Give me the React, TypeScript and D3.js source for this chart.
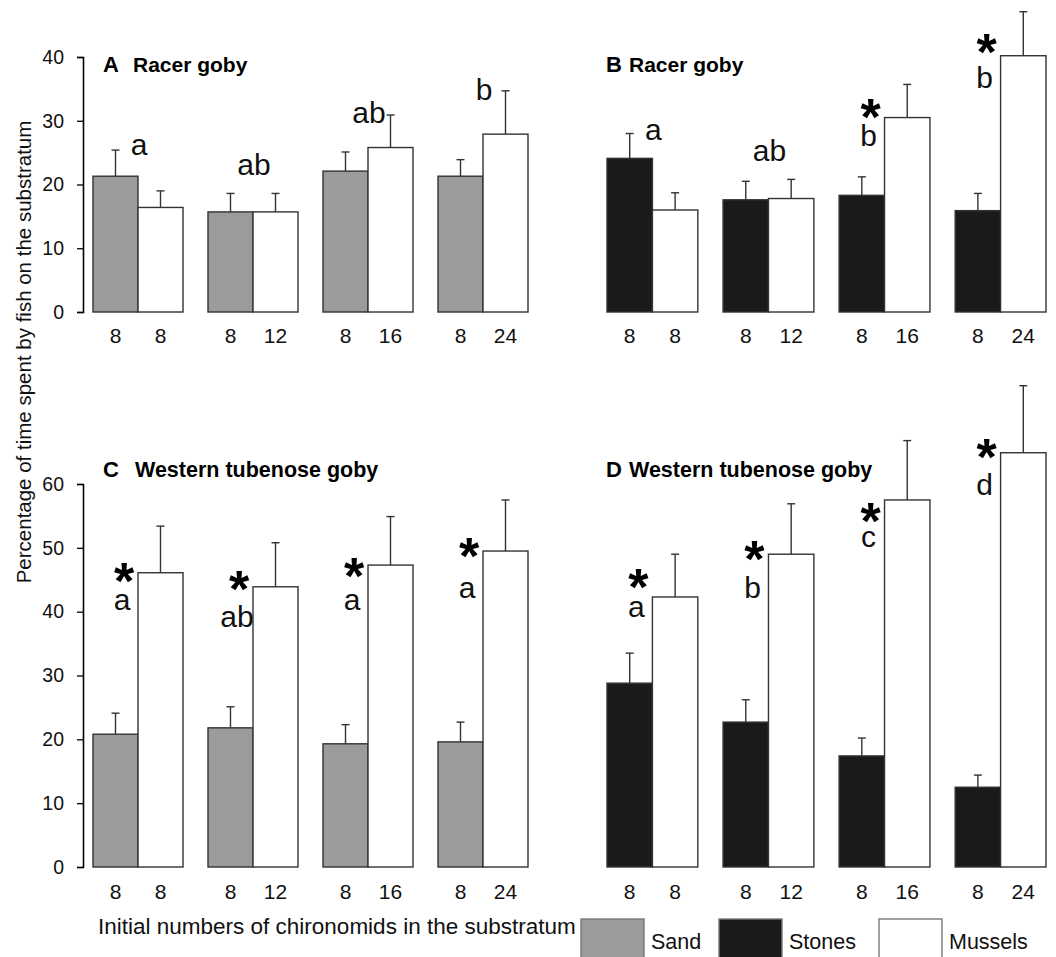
import React, { useEffect, useRef } from 'react'
import * as d3 from 'd3'

const [WIDTH, HEIGHT] = [1056, 957]
const FONT = '"Liberation Sans", Arial, sans-serif'

const groups = ['g1', 'g2', 'g3', 'g4']
const sideKeys = ['sub', 'mus']
const substrateNumbers = ['8', '8', '8', '8']
const musselNumbers = ['8', '12', '16', '24']

// A: racer goby, sand vs mussels
const aSand = [21.3, 15.7, 22.1, 21.3]
const aSandSE = [4.1, 2.9, 3.0, 2.6]
const aMussels = [16.4, 15.7, 25.8, 27.9]
const aMusselsSE = [2.6, 2.9, 5.1, 6.8]
const aLetters = ['a', 'ab', 'ab', 'b']
const aLetterY = [24.6, 21.5, 29.6, 33.3]
const aStars = [false, false, false, false]
const aStarY = [0, 0, 0, 0]

// B: racer goby, stones vs mussels
const bStones = [24.1, 17.6, 18.3, 15.9]
const bStonesSE = [3.9, 2.9, 2.9, 2.7]
const bMussels = [16.0, 17.8, 30.5, 40.2]
const bMusselsSE = [2.7, 3.0, 5.2, 6.9]
const bLetters = ['a', 'ab', 'b', 'b']
const bLetterY = [27.0, 23.7, 26.0, 35.1]
const bStars = [false, false, true, true]
const bStarY = [0, 0, 32.0, 42.2]

// C: western tubenose goby, sand vs mussels
const cSand = [20.8, 21.8, 19.3, 19.6]
const cSandSE = [3.3, 3.3, 3.0, 3.1]
const cMussels = [46.1, 43.9, 47.3, 49.5]
const cMusselsSE = [7.3, 6.9, 7.6, 8.0]
const cLetters = ['a', 'ab', 'a', 'a']
const cLetterY = [40.3, 37.6, 40.3, 42.2]
const cStars = [true, true, true, true]
const cStarY = [46.2, 45.0, 47.0, 50.1]

// D: western tubenose goby, stones vs mussels
const dStones = [28.8, 22.7, 17.4, 12.5]
const dStonesSE = [4.7, 3.5, 2.8, 1.9]
const dMussels = [42.3, 49.0, 57.5, 64.9]
const dMusselsSE = [6.7, 7.9, 9.3, 10.5]
const dLetters = ['a', 'b', 'c', 'd']
const dLetterY = [39.2, 42.1, 50.1, 58.3]
const dStars = [true, true, true, true]
const dStarY = [45.3, 49.7, 55.6, 65.6]

const legendLabels = ['Sand', 'Stones', 'Mussels']
const COLORS = { Sand: '#9b9b9b', Stones: '#1c1a18', Mussels: '#ffffff' }

function Panel({ cfg }) {
  const axisRef = useRef(null)
  const x = d3.scaleBand().domain(groups).range(cfg.xRange).paddingInner(25 / 115).paddingOuter(0)
  const xi = d3.scaleBand().domain(sideKeys).range([0, x.bandwidth()])
  const y = d3.scaleLinear().domain([0, cfg.yMax]).range(cfg.yRange)

  useEffect(() => {
    if (!cfg.axis) return
    const g = d3.select(axisRef.current)
    g.selectAll('*').remove()
    g.call(d3.axisLeft(y).ticks(cfg.yMax / 10).tickSize(6).tickPadding(13))
    g.select('.domain').attr('stroke', '#000').attr('stroke-width', 1.6)
    g.selectAll('.tick line').attr('stroke', '#000').attr('stroke-width', 1.3)
    g.selectAll('.tick text')
      .attr('font-family', FONT).attr('font-size', 19.5).attr('fill', '#111')
  }, [cfg])

  const bars = []
  groups.forEach((gk, i) => {
    const vals = [cfg.sub[i], cfg.mus[i]]
    const ses = [cfg.subSE[i], cfg.musSE[i]]
    const fills = [COLORS[cfg.subName], COLORS.Mussels]
    const labels = [substrateNumbers[i], musselNumbers[i]]
    sideKeys.forEach((k, j) => {
      const bx = x(gk) + xi(k)
      const cx = bx + xi.bandwidth() / 2
      const top = y(vals[j] + ses[j])
      bars.push(
        <g key={gk + k}>
          <line x1={cx} x2={cx} y1={y(vals[j])} y2={top} stroke="#333" strokeWidth={1.4} />
          <line x1={cx - 4} x2={cx + 4} y1={top} y2={top} stroke="#333" strokeWidth={1.4} />
          <rect x={bx} y={y(vals[j])} width={xi.bandwidth()} height={y(0) - y(vals[j])}
            fill={fills[j]} stroke="#333" strokeWidth={1.4} />
          <text x={cx} y={y(0) + cfg.tickDy} textAnchor="middle" fontFamily={FONT}
            fontSize={21} fill="#111">{labels[j]}</text>
        </g>
      )
    })
  })

  const notes = groups.map((gk, i) => {
    const side = cfg.stars[i] || cfg.side
    const lx = side ? x(gk) + xi('mus') - 16 : x(gk) + x.bandwidth() / 2 + 1
    return (
      <g key={'n' + gk}>
        {cfg.stars[i] &&
          <text x={lx + 2} y={y(cfg.starY[i]) + 27} textAnchor="middle" fontFamily={FONT}
            fontWeight="bold" fontSize={52} fill="#000">*</text>}
        <text x={lx} y={y(cfg.letterY[i])} textAnchor="middle" fontFamily={FONT}
          fontSize={30} fill="#111">{cfg.letters[i]}</text>
      </g>
    )
  })

  return (
    <g>
      {cfg.axis && <g ref={axisRef} transform={`translate(${cfg.xRange[0] - 10},0)`} />}
      {bars}
      {notes}
      <text x={cfg.titleX} y={cfg.titleY} fontFamily={FONT} fontWeight="bold"
        fontSize={22} fill="#000">{cfg.tag}</text>
      <text x={cfg.nameX} y={cfg.titleY} fontFamily={FONT} fontWeight="bold"
        fontSize={cfg.titleSize} fill="#000">{cfg.name}</text>
    </g>
  )
}

const panels = [
  { tag: 'A', name: 'Racer goby', subName: 'Sand', sub: aSand, subSE: aSandSE, mus: aMussels, musSE: aMusselsSE,
    letters: aLetters, letterY: aLetterY, stars: aStars, starY: aStarY, side: false,
    xRange: [93, 528], yMax: 40, yRange: [312, 57], axis: true, tickDy: 31,
    titleX: 103, nameX: 133, titleY: 72, titleSize: 21 },
  { tag: 'B', name: 'Racer goby', subName: 'Stones', sub: bStones, subSE: bStonesSE, mus: bMussels, musSE: bMusselsSE,
    letters: bLetters, letterY: bLetterY, stars: bStars, starY: bStarY, side: false,
    xRange: [607, 1046], yMax: 40, yRange: [312, 57], axis: false, tickDy: 31,
    titleX: 606, nameX: 629, titleY: 72, titleSize: 21 },
  { tag: 'C', name: 'Western tubenose goby', subName: 'Sand', sub: cSand, subSE: cSandSE, mus: cMussels, musSE: cMusselsSE,
    letters: cLetters, letterY: cLetterY, stars: cStars, starY: cStarY, side: true,
    xRange: [93, 528], yMax: 60, yRange: [867, 484], axis: true, tickDy: 32,
    titleX: 103, nameX: 135, titleY: 477, titleSize: 21.5 },
  { tag: 'D', name: 'Western tubenose goby', subName: 'Stones', sub: dStones, subSE: dStonesSE, mus: dMussels, musSE: dMusselsSE,
    letters: dLetters, letterY: dLetterY, stars: dStars, starY: dStarY, side: true,
    xRange: [607, 1046], yMax: 60, yRange: [867, 484], axis: false, tickDy: 32,
    titleX: 606, nameX: 629, titleY: 477, titleSize: 21.5 },
]

export default function App() {
  const legend = d3.scaleOrdinal().domain(legendLabels).range([581, 719, 879])
  return (
    <svg width={WIDTH} height={HEIGHT} style={{ position: 'absolute', left: 0, top: 0, background: '#fff' }}>
      <rect width={WIDTH} height={HEIGHT} fill="#fff" />
      {panels.map(p => <Panel key={p.tag} cfg={p} />)}
      <text transform="translate(31,352) rotate(-90)" textAnchor="middle" fontFamily={FONT}
        fontSize={20.5} fill="#111">Percentage of time spent by fish on the substratum</text>
      <text x={98} y={934} fontFamily={FONT} fontSize={22.5} fill="#111">
        Initial numbers of chironomids in the substratum</text>
      {legendLabels.map(l => (
        <g key={l}>
          <rect x={legend(l)} y={919} width={63} height={45} fill={COLORS[l]} stroke="#777" strokeWidth={1.4} />
          <text x={legend(l) + 70} y={949} fontFamily={FONT} fontSize={21.5} fill="#111">{l}</text>
        </g>
      ))}
    </svg>
  )
}
